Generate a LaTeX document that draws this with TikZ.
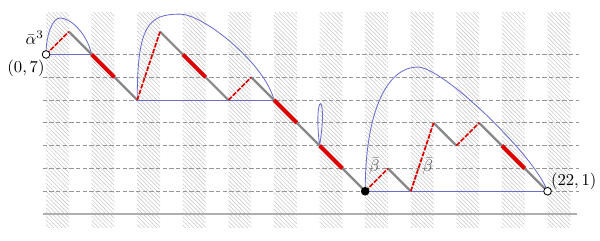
\documentclass[tikz,border=0pt]{standalone}
\usetikzlibrary{patterns.meta}
\definecolor{pathred}{RGB}{220,0,0}
\definecolor{arcblue}{RGB}{105,110,205}
\definecolor{hatch}{RGB}{195,195,195}
\tikzset{
  stripe/.style={pattern={Lines[angle=-45,distance=1.75pt,line width=0.3pt]},pattern color=hatch},
  gridline/.style={draw={rgb,255:red,150;green,150;blue,150},line width=0.6pt,dash pattern=on 2.6pt off 1.4pt},
  baseline/.style={draw={rgb,255:red,175;green,175;blue,175},line width=1pt},
  downstep/.style={draw={rgb,255:red,135;green,135;blue,135},line width=1.35pt},
  redthick/.style={draw=pathred,line width=2.4pt},
  reddash/.style={draw=pathred,line width=1pt,dash pattern=on 2.8pt off 0.9pt},
  arcline/.style={draw=arcblue,line width=0.5pt},
  opendot/.style={circle,draw=black,fill=white,line width=0.5pt,inner sep=0pt,minimum size=4.6pt},
  fulldot/.style={circle,fill=black,inner sep=0pt,minimum size=5.2pt},
  ptlabel/.style={inner sep=0pt},
  barlabel/.style={text={rgb,255:red,95;green,95;blue,95},inner sep=0pt}
}
\begin{document}
\begin{tikzpicture}[x=0.481cm,y=0.481cm]
\useasboundingbox (-2.02,-1.14) rectangle (24.3,9.39);
% stripes
\foreach \k in {0,...,11}
  \path[stripe] (2*\k,-0.6) rectangle (2*\k+1,8.82);
% grid lines
\foreach \j in {1,...,7}
  \draw[gridline] (-0.15,\j) -- (23.38,\j);
\draw[baseline] (-0.15,0) -- (23.3,0);
% vertices
\coordinate (p0) at (0,7);
\coordinate (p1) at (1,8);
\coordinate (p2) at (2,7);
\coordinate (p3) at (3,6);
\coordinate (p4) at (4,5);
\coordinate (p5) at (5,8);
\coordinate (p6) at (6,7);
\coordinate (p7) at (7,6);
\coordinate (p8) at (8,5);
\coordinate (p9) at (9,6);
\coordinate (p10) at (10,5);
\coordinate (p11) at (11,4);
\coordinate (p12) at (12,3);
\coordinate (p13) at (13,2);
\coordinate (p14) at (14,1);
\coordinate (p15) at (15,2);
\coordinate (p16) at (16,1);
\coordinate (p17) at (17,4);
\coordinate (p18) at (18,3);
\coordinate (p19) at (19,4);
\coordinate (p20) at (20,3);
\coordinate (p21) at (21,2);
\coordinate (p22) at (22,1);
% blue arcs and chords
\draw[arcline] (p0) -- (p2);
\draw[arcline] (p0) .. controls (0,7.9) and (0.3,8.6) .. (0.61,8.6)
  .. controls (1.1,8.6) and (1.8,7.9) .. (p2);
\draw[arcline] (p4) -- (p10);
\draw[arcline] (p4) .. controls (4,8.3) and (4.5,8.77) .. (5.88,8.77)
  .. controls (6.9,8.77) and (9.6,6.6) .. (p10);
\draw[arcline] (p12) .. controls (11.7,5.45) and (12.4,5.45) .. (p12);
\draw[arcline] (p14) -- (p22);
\draw[arcline] (p14) .. controls (14,4.6) and (15,6.45) .. (16.3,6.45)
  .. controls (17.4,6.45) and (21.4,2.6) .. (p22);
% gray down steps
\foreach \a/\b in {p1/p2,p3/p4,p5/p6,p7/p8,p9/p10,p11/p12,p13/p14,p15/p16,p17/p18,p19/p20,p21/p22}
  \draw[downstep] (\a) -- (\b);
% red thick down steps
\foreach \a/\b in {p2/p3,p6/p7,p10/p11,p12/p13,p20/p21}
  \draw[redthick] (\a) -- (\b);
% red dashed up steps
\foreach \a/\b in {p0/p1,p4/p5,p8/p9,p14/p15,p16/p17,p18/p19}
  \draw[reddash] (\a) -- (\b);
% end points
\node[opendot] (start) at (p0) {};
\node[fulldot] (mid) at (p14) {};
\node[opendot] (end) at (p22) {};
% labels
\node[ptlabel] (alab) at (-0.5,7.75) {$\bar\alpha^3$};
\node[ptlabel] (slab) at (-0.88,6.4) {$(0,7)$};
\node[ptlabel] (elab) at (23.15,1.45) {$(22,1)$};
\node[barlabel] (b1) at (14.4,2.1) {$\bar\beta$};
\node[barlabel] (b2) at (16.75,2.1) {$\bar\beta$};
\end{tikzpicture}
\end{document}
